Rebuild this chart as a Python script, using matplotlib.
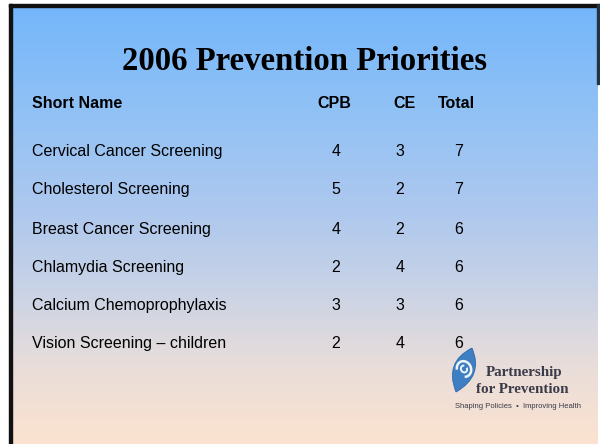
import matplotlib
matplotlib.use('Agg')
import matplotlib.pyplot as plt
import numpy as np
from matplotlib.colors import LinearSegmentedColormap
from matplotlib.patches import Rectangle, PathPatch, Arc
from matplotlib.path import Path

# table data
title = '2006 Prevention Priorities'
header = ['Short Name', 'CPB', 'CE', 'Total']
names = ['Cervical Cancer Screening', 'Cholesterol Screening', 'Breast Cancer Screening',
         'Chlamydia Screening', 'Calcium Chemoprophylaxis', 'Vision Screening \u2013 children']
cpb = [4, 5, 4, 2, 3, 2]
ce = [3, 2, 2, 4, 3, 4]
total = [7, 7, 6, 6, 6, 6]

row_y = [151, 189, 229, 267, 305, 343]
head_x = [32, 334, 404, 456]
val_x = [336, 400, 459]
fs = 11.5

fig = plt.figure(figsize=(6, 4.44), dpi=100)
ax = fig.add_axes([0, 0, 1, 1])
ax.set_xlim(0, 600); ax.set_ylim(444, 0)
ax.axis('off')

# slide background: blue at top fading to peach
cmap = LinearSegmentedColormap.from_list('slide', [
    (0.0, '#74B6FB'), (0.25, '#92C2F5'), (0.47, '#AEC8EE'),
    (0.65, '#C9D3E6'), (0.82, '#E8DDDA'), (1.0, '#FCE3D0')])
grad = np.linspace(0, 1, 256).reshape(-1, 1)
ax.imshow(grad, cmap=cmap, aspect='auto', extent=(12, 598, 444, 7), zorder=0)

# frame
ax.add_patch(Rectangle((9, 4), 3, 440, color='#111111', zorder=1))
ax.add_patch(Rectangle((9, 4), 590, 3, color='#111111', zorder=1))
ax.add_patch(Rectangle((597, 4), 1.5, 80, color='#223344', zorder=1))

ax.text(305, 61, title, ha='center', va='center', fontsize=23.6, fontweight='bold',
        family='Liberation Serif', color='black')

ax.text(head_x[0], 103, header[0], ha='left', va='center', fontsize=fs, fontweight='bold',
        family='Liberation Sans')
for x, h in zip(head_x[1:], header[1:]):
    ax.text(x, 103, h, ha='center', va='center', fontsize=fs, fontweight='bold',
            family='Liberation Sans')

for y, n, a, b, t in zip(row_y, names, cpb, ce, total):
    ax.text(32, y, n, ha='left', va='center', fontsize=fs, family='Liberation Sans')
    for x, v in zip(val_x, (a, b, t)):
        ax.text(x, y, str(v), ha='center', va='center', fontsize=fs, family='Liberation Sans')

# logo: tilted leaf with a white swirl
verts = [(472, 348), (444, 362), (456, 392), (484, 376), (472, 348)]
codes = [Path.MOVETO, Path.CURVE3, Path.CURVE3, Path.CURVE3, Path.CURVE3]
ax.add_patch(PathPatch(Path(verts, codes), facecolor='#3D7FC2', edgecolor='#2E6AAB',
                       lw=0.6, zorder=2))
ax.add_patch(Arc((464, 369), 14, 16, angle=-25, theta1=200, theta2=470, color='#EEF3F8',
                 lw=1.8, zorder=3))
ax.add_patch(Arc((464, 369), 6, 7, angle=-25, theta1=0, theta2=300, color='#EEF3F8',
                 lw=1.4, zorder=3))
ax.text(524, 372, 'Partnership', ha='center', va='center', fontsize=10.8, fontweight='bold',
        family='Liberation Serif', color='#3A3A48')
ax.text(522, 389, 'for Prevention', ha='center', va='center', fontsize=10.8, fontweight='bold',
        family='Liberation Serif', color='#3A3A48')
ax.text(518, 406, 'Shaping Policies  \u2022  Improving Health', ha='center', va='center',
        fontsize=5.5, family='Liberation Sans', color='#3A3A48')

fig.savefig('out.png', dpi=100)
